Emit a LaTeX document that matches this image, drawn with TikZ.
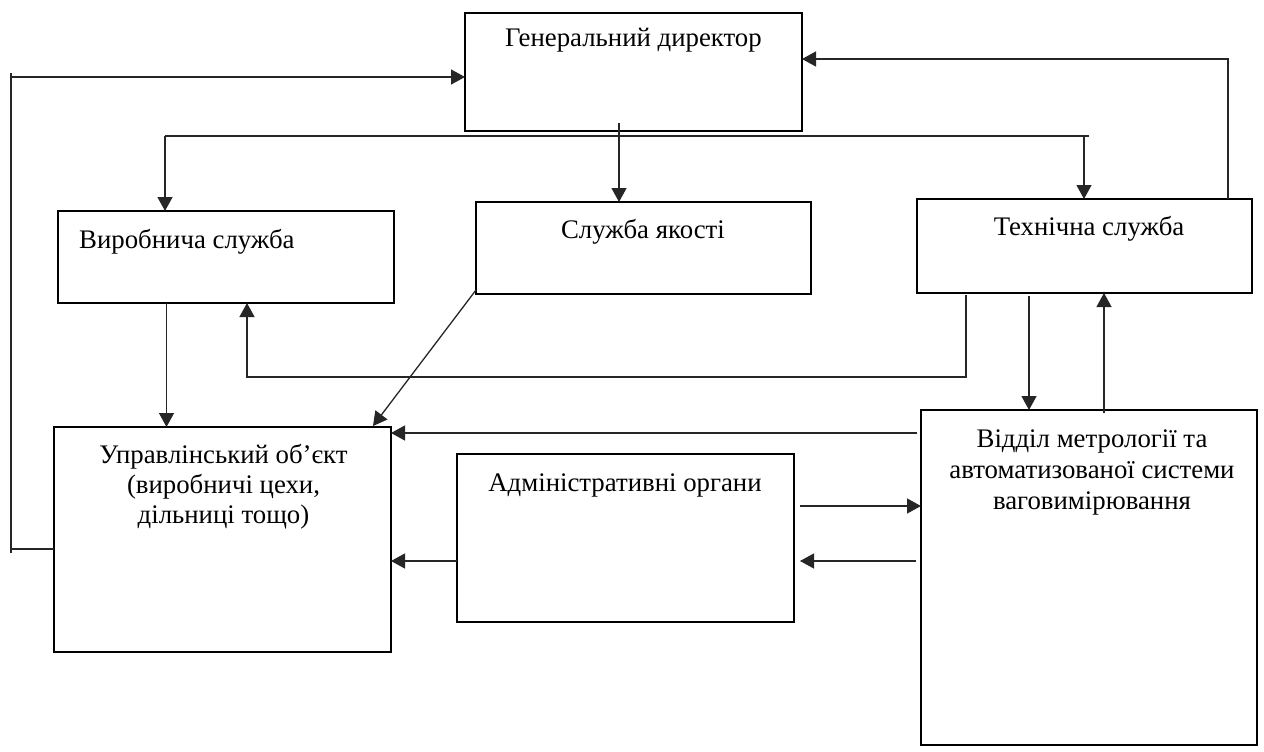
\documentclass[tikz,border=0pt]{standalone}
\usepackage{fontspec}
\setmainfont{Liberation Serif}
\usetikzlibrary{arrows.meta}
\begin{document}
\begin{tikzpicture}[x=1pt,y=-1pt,
  box/.style={draw, line width=2.7pt, inner sep=0pt, outer sep=0pt},
  txt/.style={inner sep=0pt, anchor=base, font=\fontsize{26.8}{31}\selectfont},
  conn/.style={line width=1.3pt, draw=black!85},
  arr/.style={conn, -{Triangle[length=14pt,width=15pt]}}]
\useasboundingbox (0,0) rectangle (1264,752);

% boxes
\node[box, minimum width=337pt, minimum height=118pt] (gd)  at (633.5,72) {};
\node[box, minimum width=336pt, minimum height=92pt]  (vs)  at (226,257) {};
\node[box, minimum width=335pt, minimum height=92pt]  (sq)  at (643.5,248) {};
\node[box, minimum width=335pt, minimum height=94pt]  (ts)  at (1084.5,246) {};
\node[box, minimum width=337pt, minimum height=225pt] (uo)  at (222.5,539.5) {};
\node[box, minimum width=337pt, minimum height=168pt] (adm) at (625.5,538) {};
\node[box, minimum width=336pt, minimum height=335pt] (vid) at (1089,577.5) {};

% labels
\node[txt] (gdt)  at (633.5,47) {Генеральний директор};
\node[txt, anchor=base west] (vst) at (79,248) {Виробнича служба};
\node[txt] (sqt)  at (643,238)  {Служба якості};
\node[txt] (tst)  at (1089,235) {Технічна служба};
\node[txt] (uot1) at (223.5,463) {Управлінський об’єкт};
\node[txt] (uot2) at (223.5,493) {(виробничі цехи,};
\node[txt] (uot3) at (223.5,523) {дільниці тощо)};
\node[txt] (admt) at (625,491)  {Адміністративні органи};
\node[txt] (vidt1) at (1092,447) {Відділ метрології та};
\node[txt] (vidt2) at (1092,478) {автоматизованої системи};
\node[txt] (vidt3) at (1092,509) {ваговимірювання};

% director to the services
\coordinate (gdv) at (619,123);
\draw[arr] (gdv) -- (gdv |- sq.north);
\coordinate (busL) at (165,136);
\coordinate (busR) at (1089,136);
\coordinate (busT) at (1084,136);
\draw[conn] (busL) -- (busR);
\draw[arr] (busL) -- (busL |- vs.north);
\draw[arr] (busT) -- (busT |- ts.north);

% technical service back to the director
\coordinate (tsu) at (1228,59);
\draw[arr] (tsu |- ts.north) -- (tsu) -- (tsu -| gd.east);

% managed object back to the director
\coordinate (lb) at (11,549);
\coordinate (lt) at (11,77);
\coordinate (lbx) at (11,553);
\coordinate (ltx) at (11,73);
\draw[conn] (uo.west |- lb) -- (lb);
\draw[conn] (lbx) -- (ltx);
\draw[arr] (lt) -- (lt -| gd.west);

% production service to the managed object
\coordinate (vsd) at (166.5,303);
\draw[arr] (vsd |- vs.south) -- (vsd |- uo.north);

% technical service to the production service
\coordinate (tsd) at (966,377);
\coordinate (vsu) at (247,377);
\coordinate (tss) at (966,295);
\draw[arr] (tss) -- (tsd) -- (vsu) -- (vsu |- vs.south);

% quality service to the managed object
\coordinate (sqc) at (476,290);
\coordinate (uon) at (373,426);
\draw[arr] (sqc) -- (uon);

% technical service and metrology department
\coordinate (td) at (1029,296);
\draw[arr] (td) -- (td |- vid.north);
\coordinate (vu) at (1104,413);
\draw[arr] (vu) -- (vu |- ts.south);

% metrology department to the managed object
\coordinate (v1) at (917,433);
\draw[arr] (v1) -- (v1 -| uo.east);

% administrative bodies and metrology department
\coordinate (a1) at (800,506);
\draw[arr] (a1) -- (a1 -| vid.west);
\coordinate (v2) at (916,561);
\coordinate (a2) at (800,561);
\draw[arr] (v2) -- (a2);
\coordinate (a3) at (457,561);
\draw[arr] (a3) -- (a3 -| uo.east);
\end{tikzpicture}
\end{document}
